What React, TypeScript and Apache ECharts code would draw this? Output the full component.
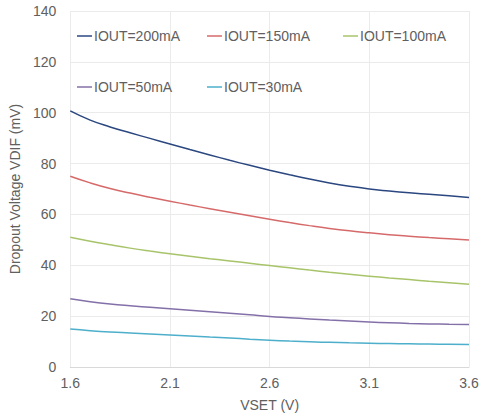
import React, { useEffect, useRef } from "react";
import * as echarts from "echarts";

const vset = [1.6, 1.7, 1.8, 1.9, 2.0, 2.1, 2.2, 2.3, 2.4, 2.5, 2.6, 2.7, 2.8, 2.9, 3.0, 3.1, 3.2, 3.3, 3.4, 3.5, 3.6];
const iout200 = [100.7, 97.1, 94.4, 92.1, 89.9, 87.7, 85.5, 83.4, 81.3, 79.3, 77.4, 75.6, 73.9, 72.4, 71.1, 70.0, 69.2, 68.5, 67.9, 67.3, 66.7];
const iout150 = [75.0, 72.4, 70.2, 68.4, 66.75, 65.2, 63.7, 62.25, 60.85, 59.45, 58.1, 56.8, 55.6, 54.5, 53.55, 52.75, 52.05, 51.45, 50.9, 50.4, 49.95];
const iout100 = [51.0, 49.45, 48.05, 46.75, 45.6, 44.55, 43.55, 42.6, 41.7, 40.8, 39.9, 39.0, 38.12, 37.27, 36.47, 35.72, 35.02, 34.37, 33.75, 33.15, 32.55];
const iout50 = [26.8, 25.7, 24.8, 24.1, 23.5, 22.9, 22.3, 21.7, 21.1, 20.5, 19.9, 19.4, 18.9, 18.45, 18.05, 17.7, 17.4, 17.15, 16.95, 16.8, 16.7];
const iout30 = [14.9, 14.3, 13.8, 13.4, 13.0, 12.6, 12.2, 11.8, 11.4, 10.95, 10.55, 10.2, 9.9, 9.7, 9.5, 9.35, 9.2, 9.1, 9.0, 8.9, 8.8];

const seriesNames = ["IOUT=200mA", "IOUT=150mA", "IOUT=100mA", "IOUT=50mA", "IOUT=30mA"];
const seriesData = [iout200, iout150, iout100, iout50, iout30];
const seriesColors = ["#2B4780", "#D66A6A", "#A8C46A", "#8470A8", "#4DAFCB"];
const legendPos = [
  { left: 77, top: 29 },
  { left: 207, top: 29 },
  { left: 343, top: 29 },
  { left: 77, top: 80 },
  { left: 207, top: 80 },
];

const FONT = "'Liberation Sans', Arial, sans-serif";
const TXT = "#606060";

export default function App() {
  const ref = useRef<HTMLDivElement>(null);
  useEffect(() => {
    if (!ref.current) return;
    const chart = echarts.init(ref.current, null, { renderer: "svg" });
    chart.setOption({
      animation: false,
      backgroundColor: "#ffffff",
      textStyle: { fontFamily: FONT },
      grid: { left: 64, right: 13, top: 11, bottom: 52 },
      legend: seriesNames.map((n, i) => ({
        data: [n],
        left: legendPos[i].left,
        top: legendPos[i].top,
        icon: "rect",
        itemWidth: 15,
        itemHeight: 1.5,
        padding: 0,
        textStyle: { fontFamily: FONT, fontSize: 14, color: TXT, padding: [0, 0, 0, -3] },
      })),
      xAxis: {
        type: "value",
        min: 1.6,
        max: 3.6,
        interval: 0.5,
        name: "VSET (V)",
        nameLocation: "middle",
        nameGap: 31,
        nameTextStyle: { fontFamily: FONT, fontSize: 14, color: TXT },
        axisLine: { show: true, lineStyle: { color: "#d9d9d9" } },
        axisTick: { show: false },
        axisLabel: {
          fontFamily: FONT,
          fontSize: 14,
          color: TXT,
          margin: 9,
          formatter: (v: number) => v.toFixed(1),
        },
        splitLine: { show: true, lineStyle: { color: "#ebebeb" } },
      },
      yAxis: {
        type: "value",
        min: 0,
        max: 140,
        interval: 20,
        name: "Dropout Voltage VDIF (mV)",
        nameLocation: "middle",
        nameGap: 41,
        nameTextStyle: { fontFamily: FONT, fontSize: 14, color: TXT },
        axisLine: { show: false },
        axisTick: { show: false },
        axisLabel: { fontFamily: FONT, fontSize: 14, color: TXT, margin: 14 },
        splitLine: { show: true, lineStyle: { color: "#ebebeb" } },
      },
      series: seriesNames.map((n, i) => ({
        name: n,
        type: "line",
        data: vset.map((x, j) => [x, seriesData[i][j]]),
        smooth: true,
        symbol: "none",
        lineStyle: { width: 1.5, color: seriesColors[i] },
        itemStyle: { color: seriesColors[i] },
      })),
    });
    return () => chart.dispose();
  }, []);
  return (
    <div
      ref={ref}
      style={{ position: "fixed", left: 0, top: 0, width: 482, height: 419 }}
    />
  );
}
